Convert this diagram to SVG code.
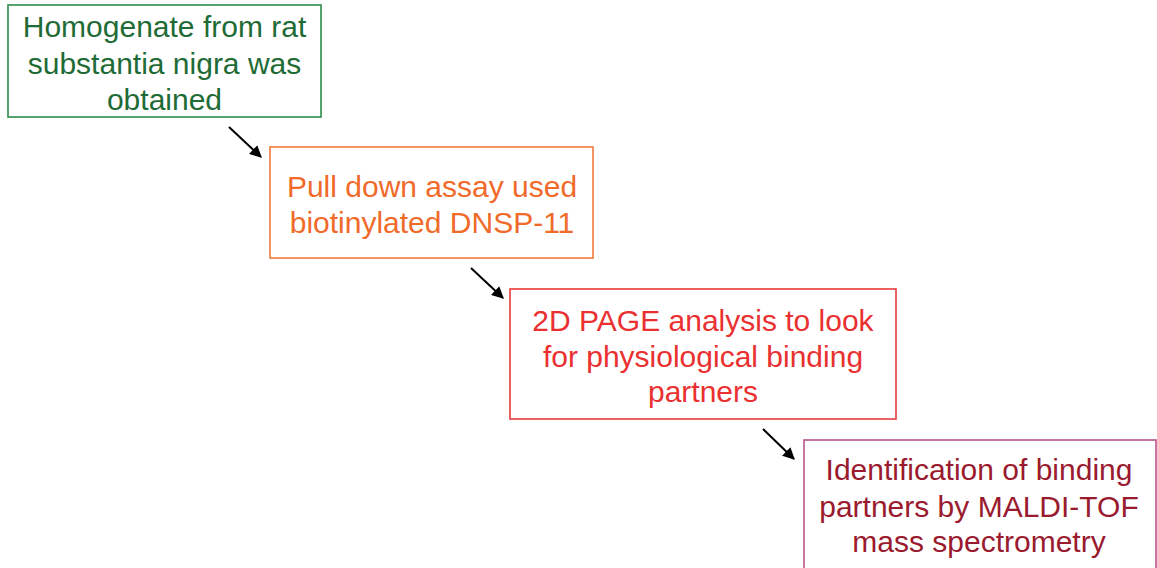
<svg xmlns="http://www.w3.org/2000/svg" width="1157" height="568" viewBox="0 0 1157 568">
<style>
text{font-family:"Liberation Sans",Arial,sans-serif;font-size:30px;text-anchor:middle}
rect{fill:#fff;stroke-width:1.6}
.c{stroke:#000;stroke-width:2;fill:none}
</style>
<defs>
<marker id="ah" markerWidth="12" markerHeight="12" refX="9" refY="5" orient="auto" markerUnits="userSpaceOnUse" viewBox="0 0 10 10">
<path d="M0,0 L10,5 L0,10 Z" fill="#000"/>
</marker>
</defs>
<rect width="1157" height="568" fill="#fff" stroke="none"/>
<g id="n1">
<rect x="8" y="5" width="313" height="112" stroke="#2e8b4a"/>
<text fill="#1f6b36"><tspan x="164.5" y="37">Homogenate from rat</tspan><tspan x="164.5" y="73.5">substantia nigra was</tspan><tspan x="164.5" y="110">obtained</tspan></text>
</g>
<g id="n2">
<rect x="270" y="147" width="323" height="111" stroke="#f07a3a"/>
<text fill="#f06a2a"><tspan x="432" y="197">Pull down assay used</tspan><tspan x="432" y="233">biotinylated DNSP-11</tspan></text>
</g>
<g id="n3">
<rect x="510" y="289" width="386" height="130" stroke="#e83a3a"/>
<text fill="#ea3030"><tspan x="703" y="331">2D PAGE analysis to look</tspan><tspan x="703" y="366.5">for physiological binding</tspan><tspan x="703" y="402">partners</tspan></text>
</g>
<g id="n4">
<rect x="804" y="440" width="352" height="140" stroke="#b8568a"/>
<text fill="#9a1a2e"><tspan x="979" y="480">Identification of binding</tspan><tspan x="979" y="516.5">partners by MALDI-TOF</tspan><tspan x="979" y="552">mass spectrometry</tspan></text>
</g>
<g id="connectors">
<line class="c" x1="229" y1="127" x2="261" y2="157" marker-end="url(#ah)"/>
<line class="c" x1="471" y1="268" x2="503" y2="298" marker-end="url(#ah)"/>
<line class="c" x1="763" y1="429" x2="794" y2="459" marker-end="url(#ah)"/>
</g>
</svg>
